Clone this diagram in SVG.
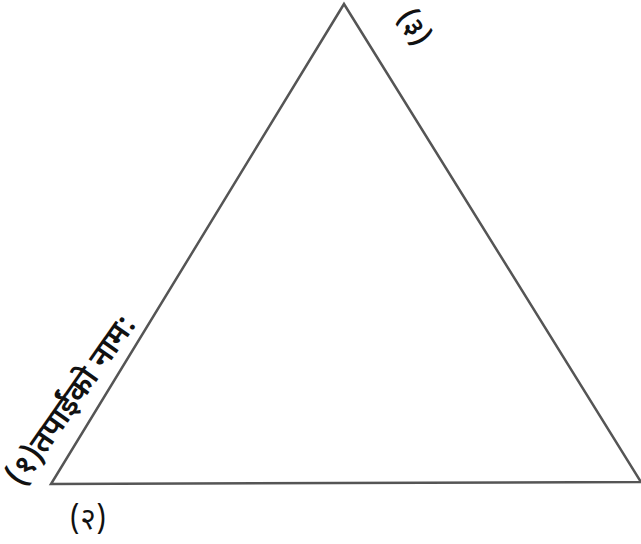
<svg xmlns="http://www.w3.org/2000/svg" width="641" height="544" viewBox="0 0 641 544">
<style>
.lbl{font-family:"Noto Sans Devanagari","Noto Sans","Lohit Devanagari","FreeSans",sans-serif;fill:#111;}
</style>
<rect width="641" height="544" fill="#fff"/>
<g id="triangle">
<polygon points="344,4 641,482 51,484" fill="none" stroke="#555" stroke-width="2.5" stroke-linejoin="miter"/>
</g>
<g id="label-1">
<text class="lbl" font-size="31" font-weight="600" transform="translate(22,488) rotate(-55)">(१)तपाईंको नाम:</text>
</g>
<g id="label-2">
<text class="lbl" font-size="30" x="88" y="529" text-anchor="middle">(२)</text>
</g>
<g id="label-3">
<text class="lbl" font-size="28" font-weight="600" text-anchor="middle" transform="translate(413,28) rotate(58)" dy="8">(३)</text>
</g>
</svg>
